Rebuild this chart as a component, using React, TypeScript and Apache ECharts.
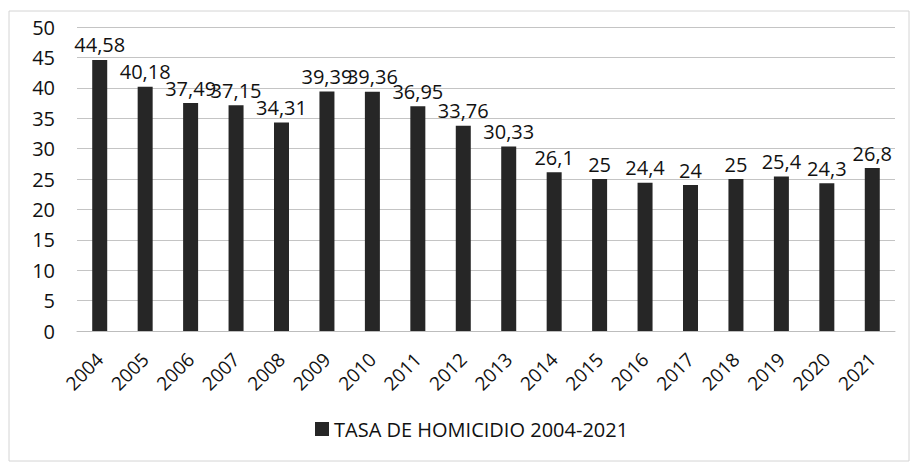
import React, { useEffect, useRef } from "react";
import * as echarts from "echarts";

const years = ["2004","2005","2006","2007","2008","2009","2010","2011","2012","2013","2014","2015","2016","2017","2018","2019","2020","2021"];
const rates = [44.58, 40.18, 37.49, 37.15, 34.31, 39.39, 39.36, 36.95, 33.76, 30.33, 26.1, 25, 24.4, 24, 25, 25.4, 24.3, 26.8];
const seriesName = "TASA DE HOMICIDIO 2004-2021";
const yTicks = { min: 0, max: 50, interval: 5 };

const FONT = "'Open Sans', 'Noto Sans', sans-serif";

export default function App() {
  const ref = useRef<HTMLDivElement>(null);
  useEffect(() => {
    if (!ref.current) return;
    const chart = echarts.init(ref.current, undefined, { renderer: "svg" });
    chart.setOption({
      animation: false,
      backgroundColor: "#ffffff",
      textStyle: { fontFamily: FONT },
      graphic: [
        {
          type: "rect",
          shape: { x: 9, y: 11, width: 900, height: 450 },
          style: { fill: "none", stroke: "#d4d4d4", lineWidth: 1 },
          silent: true,
        },
      ],
      grid: { left: 77, right: 21, top: 27, bottom: 134, containLabel: false },
      legend: {
        bottom: 21,
        left: 310,
        itemWidth: 14,
        itemHeight: 14,
        itemGap: 6,
        icon: "rect",
        textStyle: { fontFamily: FONT, fontSize: 20, color: "#111" },
        data: [seriesName],
      },
      xAxis: {
        type: "category",
        data: years,
        axisLine: { show: true, lineStyle: { color: "#bdbdbd", width: 1 } },
        axisTick: { show: false },
        axisLabel: {
          rotate: 45,
          margin: 25,
          fontFamily: FONT,
          fontSize: 19,
          color: "#111",
        },
      },
      yAxis: {
        type: "value",
        min: yTicks.min,
        max: yTicks.max,
        interval: yTicks.interval,
        axisLine: { show: false },
        axisTick: { show: false },
        splitLine: { lineStyle: { color: "#c4c4c4", width: 1 } },
        axisLabel: {
          margin: 22,
          fontFamily: FONT,
          fontSize: 20,
          color: "#111",
        },
      },
      series: [
        {
          name: seriesName,
          type: "bar",
          data: rates,
          barWidth: 15,
          itemStyle: { color: "#262626" },
          label: {
            show: true,
            position: "top",
            distance: 5,
            fontFamily: FONT,
            fontSize: 20,
            color: "#111",
            formatter: (p: any) => String(p.value).replace(".", ","),
          },
        },
      ],
    });
    return () => chart.dispose();
  }, []);
  return (
    <div
      ref={ref}
      style={{ position: "absolute", left: 0, top: 0, width: 916, height: 465 }}
    />
  );
}
